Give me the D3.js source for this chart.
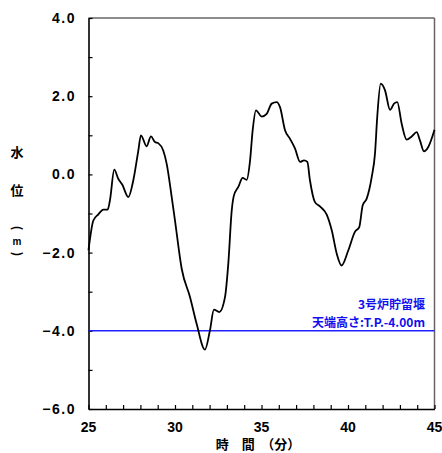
<!DOCTYPE html>
<html><head><meta charset="utf-8">
<script src="https://cdn.jsdelivr.net/npm/d3@7"></script>
<style>
html,body{margin:0;padding:0;background:#fff;}
text{font-family:"Liberation Sans","Noto Sans CJK JP",sans-serif;font-weight:bold;}
.jp{font-family:"Noto Sans CJK JP",sans-serif;}
</style></head>
<body>
<svg id="c" width="442" height="453"></svg>
<script>
const times = [25.00,25.28,25.57,25.86,26.11,26.24,26.49,26.72,26.95,27.30,27.59,27.88,28.03,28.36,28.61,28.84,29.03,29.32,29.52,29.81,30.00,30.39,30.87,31.25,31.73,32.02,32.25,32.56,32.89,33.08,33.28,33.40,33.66,33.91,34.14,34.34,34.49,34.68,35.01,35.30,35.59,35.88,36.07,36.36,36.65,36.94,37.23,37.46,37.65,37.80,38.09,38.38,38.77,39.06,39.35,39.63,40.02,40.40,40.65,40.85,41.08,41.37,41.56,41.69,41.89,42.14,42.43,42.66,42.85,43.10,43.39,43.68,43.97,44.16,44.39,44.64,45.00];
const levels = [-1.94,-1.18,-1.02,-0.90,-0.90,-0.66,0.12,-0.11,-0.26,-0.58,-0.15,0.61,1.00,0.72,0.97,0.83,0.80,0.61,0.27,-0.58,-1.18,-2.42,-3.14,-3.82,-4.48,-3.99,-3.46,-3.52,-3.14,-2.29,-0.92,-0.55,-0.32,-0.09,-0.14,0.36,1.13,1.64,1.48,1.55,1.81,1.85,1.72,1.13,0.91,0.66,0.32,0.36,0.32,-0.15,-0.71,-0.82,-1.03,-1.43,-2.03,-2.33,-1.94,-1.47,-1.35,-0.79,-0.62,-0.07,0.53,1.47,2.32,2.15,1.65,1.81,1.85,1.30,0.89,0.97,1.08,0.87,0.59,0.70,1.14];
const xTickLabels = [25,30,35,40,45];
const yTickLabels = [4,2,0,-2,-4,-6];
const wallLevel = -4.0;
const wallLabel1 = "3号炉貯留堰";
const wallLabel2 = "天端高さ:T.P.-4.00m";
const yTitle = ["水","位"];
const xTitle = "時　間　（分）";

const svg = d3.select("#c");
const L=88.5, R=434.5, T=18, B=409;
const x = d3.scaleLinear().domain([25,45]).range([L,R]);
const y = d3.scaleLinear().domain([-6,4]).range([B,T]);

// frame
svg.append("line").attr("x1",L).attr("x2",R).attr("y1",T).attr("y2",T).attr("stroke","#666").attr("stroke-width",1.5);
svg.append("line").attr("x1",R).attr("x2",R).attr("y1",T).attr("y2",B).attr("stroke","#666").attr("stroke-width",1.5);

// axes
const yAxis = d3.axisLeft(y).tickValues(d3.range(-6,4.01,1)).tickSizeInner(-4).tickSizeOuter(0).tickFormat("");
const gy = svg.append("g").attr("transform",`translate(${L},0)`).call(yAxis);
const xAxis = d3.axisBottom(x).tickValues(d3.range(25,45.01,1)).tickSizeInner(-4).tickSizeOuter(0).tickFormat("");
const gx = svg.append("g").attr("transform",`translate(0,${B})`).call(xAxis);
[gx,gy].forEach(g=>{g.selectAll("path").attr("stroke","#000").attr("stroke-width",1.6);g.selectAll("line").attr("stroke","#000").attr("stroke-width",1.2);});

// tick labels
svg.selectAll(".yl").data(yTickLabels).enter().append("text")
  .attr("x",76).attr("y",d=>y(d)+5).attr("text-anchor","end")
  .attr("font-size",14).attr("letter-spacing","1.5")
  .text(d=>d.toFixed(1).replace("-","−"));
svg.selectAll(".xl").data(xTickLabels).enter().append("text")
  .attr("x",d=>x(d)).attr("y",432).attr("text-anchor","middle")
  .attr("font-size",14).text(d=>d);

// titles
yTitle.forEach((c,i)=>svg.append("text").attr("class","jp").attr("x",17).attr("y",157+i*38).attr("text-anchor","middle").attr("font-size",13).text(c));
svg.append("text").attr("class","jp").attr("transform","translate(17,228) rotate(90)").attr("text-anchor","middle").attr("dy","0.35em").attr("font-size",12).text("(");
svg.append("text").attr("x",17).attr("y",245).attr("text-anchor","middle").attr("font-size",10).text("m");
svg.append("text").attr("class","jp").attr("transform","translate(17,254) rotate(90)").attr("text-anchor","middle").attr("dy","0.35em").attr("font-size",12).text(")");
svg.append("text").attr("class","jp").attr("x",258).attr("y",449).attr("text-anchor","middle").attr("font-size",13).text(xTitle);

// wall line
svg.append("line").attr("x1",L).attr("x2",R).attr("y1",y(wallLevel)).attr("y2",y(wallLevel)).attr("stroke","#2020ff").attr("stroke-width",1.5);
svg.append("text").attr("class","jp").attr("x",425).attr("y",309).attr("text-anchor","end").attr("font-size",12).attr("fill","#1010ee").text(wallLabel1);
svg.append("text").attr("class","jp").attr("x",425).attr("y",327).attr("text-anchor","end").attr("font-size",12).attr("fill","#1010ee").text(wallLabel2);

// curve
const data = times.map((t,i)=>[t,levels[i]]);
svg.append("path").datum(data).attr("fill","none").attr("stroke","#000").attr("stroke-width",1.8)
  .attr("d",d3.line().x(d=>x(d[0])).y(d=>y(d[1])).curve(d3.curveMonotoneX));
</script></body></html>
